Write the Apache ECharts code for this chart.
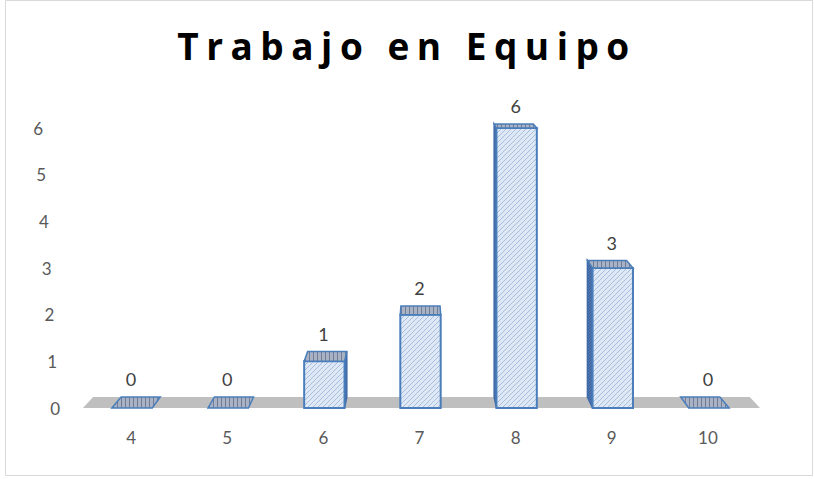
<!DOCTYPE html>
<html>
<head>
<meta charset="utf-8">
<script src="https://cdn.jsdelivr.net/npm/echarts@6/dist/echarts.min.js"></script>
<style>
  html, body { margin: 0; padding: 0; background: #fff; }
  #main { width: 814px; height: 479px; }
  /* el título de Excel lleva espaciado entre letras */
  #main svg text[style*="bold"], #main svg text[style*="700"] { letter-spacing: 7.5px; }
</style>
</head>
<body>
<div id="main"></div>
<script>
// datos del gráfico
const categories = ["4", "5", "6", "7", "8", "9", "10"];
const values = [0, 0, 1, 2, 6, 3, 0];
const yTicks = [0, 1, 2, 3, 4, 5, 6];

const FONT = "Lato, 'Liberation Sans', sans-serif";
const TITLE_FONT = "'Open Sans', 'DejaVu Sans', sans-serif";

// patrón rayado para imitar el relleno de Excel
function hatch(bg, fg, size, vertical) {
  const c = document.createElement("canvas");
  c.width = size;
  c.height = size;
  const g = c.getContext("2d");
  g.fillStyle = bg;
  g.fillRect(0, 0, size, size);
  g.strokeStyle = fg;
  g.lineWidth = 1;
  g.beginPath();
  if (vertical) {
    g.moveTo(1.5, 0);
    g.lineTo(1.5, size);
  } else {
    g.moveTo(0, size);
    g.lineTo(size, 0);
    g.moveTo(-1, 1);
    g.lineTo(1, -1);
    g.moveTo(size - 1, size + 1);
    g.lineTo(size + 1, size - 1);
  }
  g.stroke();
  return { image: c, repeat: "repeat", imageWidth: size, imageHeight: size };
}

const frontFill = hatch("#dfe8f5", "#a7bde0", 5, false);
const topFill = hatch("#a9b2c2", "#6d7d9b", 4, true);
const sideFill = hatch("#4d76b3", "#3a5f98", 3, false);

// perspectiva: el fondo se acerca al punto de fuga
let vp = [420, -32];
const TX = 0.03, TY = 0.025;
function back(p) {
  return [p[0] + (vp[0] - p[0]) * TX, p[1] + (vp[1] - p[1]) * TY];
}

function renderFloor(params, api) {
  const cs = params.coordSys;
  const floorY = api.coord([0, 0])[1];
  vp = [cs.x + cs.width / 2, floorY - 440];
  const fl = [cs.x, floorY];
  const fr = [cs.x + cs.width + 4, floorY];
  return {
    type: "polygon",
    shape: { points: [fl, fr, back(fr), back(fl)] },
    style: { fill: "#bfbfbf" },
  };
}

function renderBar(params, api) {
  const i = api.value(0);
  const v = api.value(1);
  const base = api.coord([i, 0]);
  const top = api.coord([i, v]);
  const w = api.size([1, 0])[0] * 0.42;
  const L = base[0] - w / 2 + 1;
  const R = base[0] + w / 2 + 1;
  const fTL = [L, top[1]], fTR = [R, top[1]];
  const fBL = [L, base[1]], fBR = [R, base[1]];
  const bTL = back(fTL), bTR = back(fTR);
  const bBL = back(fBL), bBR = back(fBR);
  const children = [];
  if (v > 0) {
    if (bTL[0] < L - 0.5) {
      children.push({
        type: "polygon",
        shape: { points: [fTL, bTL, bBL, fBL] },
        style: { fill: sideFill, stroke: "#3f6aa8", lineWidth: 1.5 },
      });
    } else if (bTR[0] > R + 0.5) {
      children.push({
        type: "polygon",
        shape: { points: [fTR, bTR, bBR, fBR] },
        style: { fill: sideFill, stroke: "#3f6aa8", lineWidth: 1.5 },
      });
    }
    children.push({
      type: "rect",
      shape: { x: L, y: top[1], width: w, height: base[1] - top[1] },
      style: { fill: frontFill, stroke: "#4a7ebb", lineWidth: 2 },
    });
  }
  children.push({
    type: "polygon",
    shape: { points: [fTL, fTR, bTR, bTL] },
    style: { fill: topFill, stroke: "#4a7ebb", lineWidth: 1.5 },
  });
  children.push({
    type: "text",
    style: {
      text: String(v),
      x: base[0],
      y: Math.min(bTL[1], bTR[1]) - 9,
      align: "center",
      verticalAlign: "bottom",
      fontSize: 18,
      fontFamily: FONT,
      fill: "#404040",
    },
  });
  return { type: "group", children: children };
}

// etiquetas del eje y desplazadas como en la vista 3D
const yRich = {};
yTicks.forEach((t) => {
  yRich["p" + t] = {
    padding: [0, t * 2.8, 0, 0],
    fontSize: 17,
    color: "#595959",
    fontFamily: FONT,
  };
});

const chart = echarts.init(document.getElementById("main"), null, { renderer: "svg" });
chart.setOption({
  animation: false,
  title: {
    text: "Trabajo en Equipo",
    left: "center",
    top: 22,
    padding: [5, 5, 5, 13],
    textStyle: { fontSize: 37, fontWeight: "bold", color: "#000", fontFamily: TITLE_FONT },
  },
  graphic: [
    {
      type: "rect",
      shape: { x: 5.5, y: 0.5, width: 807, height: 475 },
      style: { fill: "none", stroke: "#d9d9d9", lineWidth: 1 },
      silent: true,
    },
  ],
  grid: { left: 83, right: 58, top: 128, bottom: 71 },
  xAxis: {
    type: "category",
    data: categories,
    axisLine: { show: false },
    axisTick: { show: false },
    axisLabel: { fontSize: 17, color: "#595959", fontFamily: FONT, margin: 21 },
  },
  yAxis: {
    type: "value",
    min: 0,
    max: 6,
    interval: 1,
    axisLine: { show: false },
    axisTick: { show: false },
    splitLine: { show: false },
    axisLabel: {
      margin: 23,
      formatter: (v) => "{p" + v + "|" + v + "}",
      rich: yRich,
    },
  },
  series: [
    {
      type: "custom",
      renderItem: renderFloor,
      data: [[0, 0]],
      silent: true,
      z: 1,
    },
    {
      type: "custom",
      renderItem: renderBar,
      data: values.map((v, i) => [i, v]),
      encode: { x: 0, y: 1 },
      z: 2,
    },
  ],
});
</script>
</body>
</html>
